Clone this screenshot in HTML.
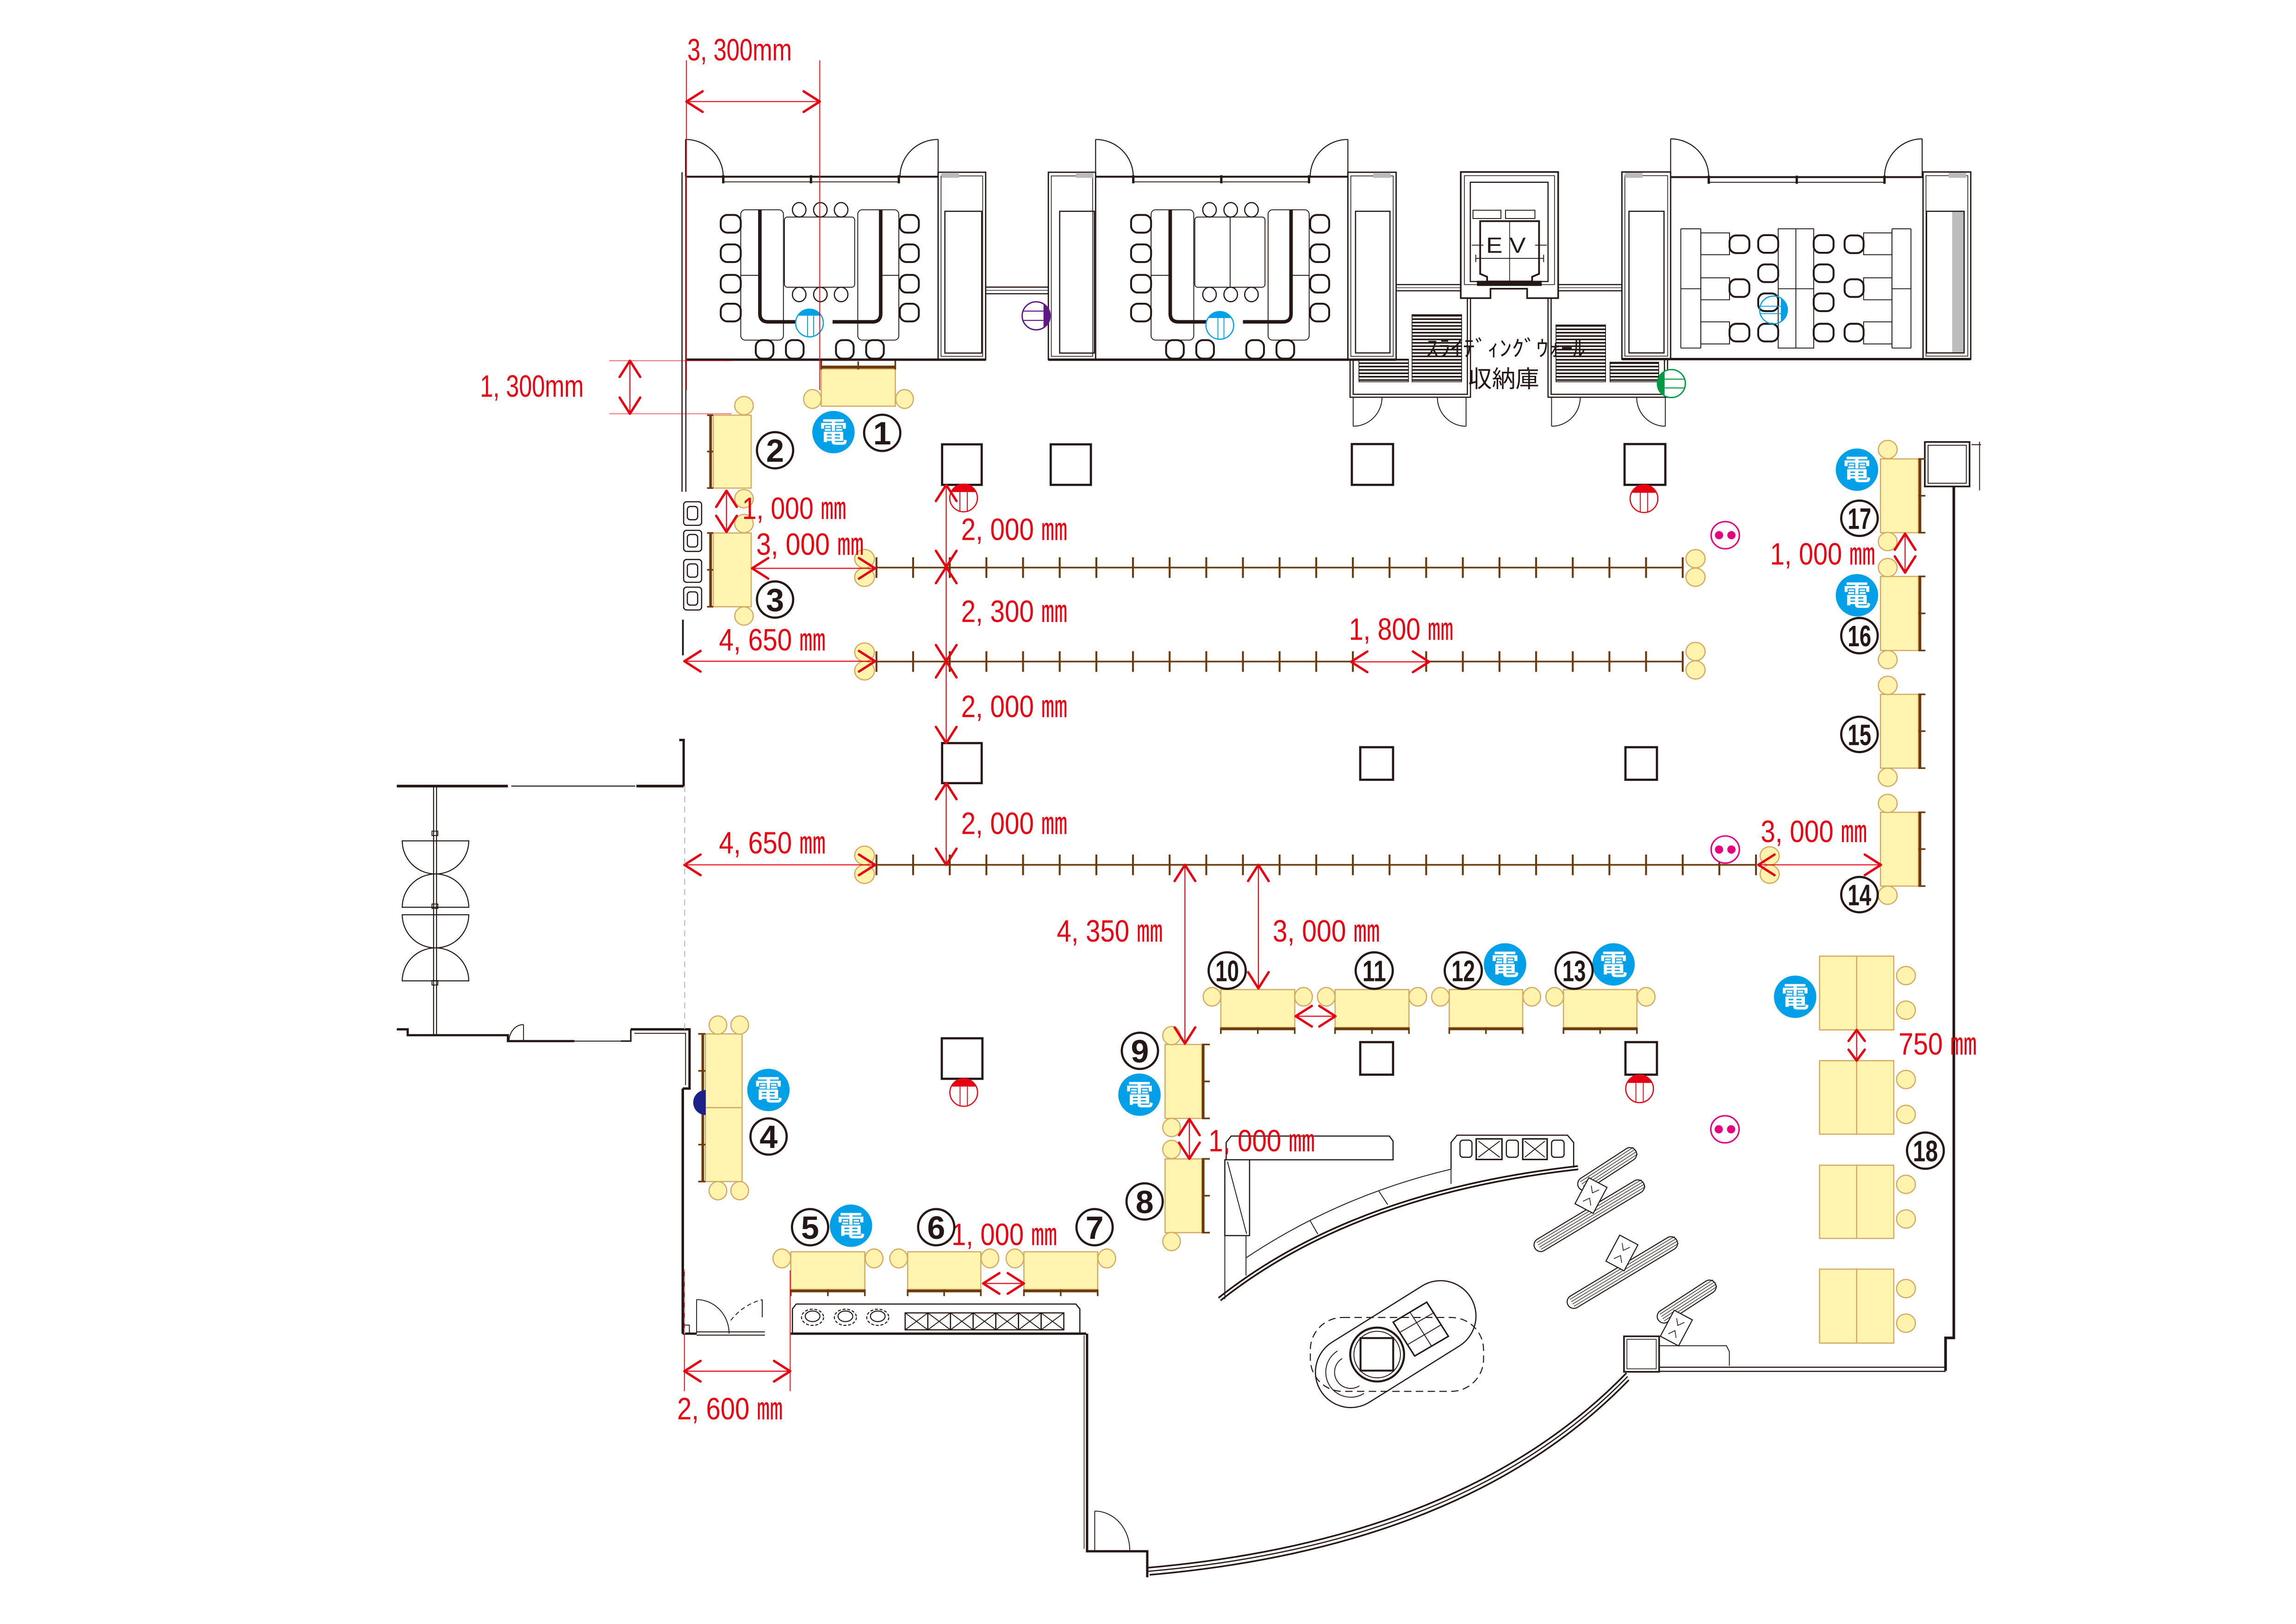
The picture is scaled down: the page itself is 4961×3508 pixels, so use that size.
<!DOCTYPE html>
<html><head><meta charset="utf-8"><style>
html,body{margin:0;padding:0;background:#fff}
svg{display:block}
.dim{fill:#e60012;font-family:"Liberation Sans","Noto Sans CJK JP",sans-serif;font-size:21px}
.num{fill:#231815;font-family:"Liberation Sans","Noto Sans CJK JP",sans-serif;font-size:22px;font-weight:bold;text-anchor:middle}
.num2{fill:#231815;font-family:"Liberation Sans","Noto Sans CJK JP",sans-serif;font-size:20px;font-weight:bold;text-anchor:middle}
.den{fill:#fff;font-family:"Liberation Sans","Noto Sans CJK JP",sans-serif;font-size:19px;font-weight:bold;text-anchor:middle}
.jp{fill:#231815;font-family:"Liberation Sans","Noto Sans CJK JP",sans-serif}
</style></head><body>
<svg xmlns="http://www.w3.org/2000/svg" width="4961" height="3508" viewBox="0 0 1560 1103" preserveAspectRatio="none">
<defs>
<pattern id="sl" width="10" height="2.3" patternUnits="userSpaceOnUse"><rect width="10" height="1.1" fill="#231815"/></pattern>
</defs>
<rect width="1560" height="1103" fill="#fff"/>

<!-- ========== TOP ROOMS ========== -->
<g stroke="#231815" fill="none">
 <path d="M463.4 117V334M466 120V334" stroke-width=".8"/>
 <path d="M466 120H637.4" stroke-width="1.3"/>
 <path d="M491.4 123.5H611.5" stroke-width=".6"/>
 <path d="M465.8 94.7V120M465.8 94.7A25.6 25.3 0 0 1 491.4 120M637.4 94.7V120M637.4 94.7A25.9 25.3 0 0 0 611.5 120" stroke-width=".7"/>
 <rect x="637.4" y="117" width="32.3" height="127.3" stroke-width=".9"/>
 <rect x="639.4" y="119.5" width="28.3" height="122.5" stroke-width=".5"/>
 <rect x="642" y="143.5" width="25" height="96.3" stroke-width=".8"/>
 <path d="M466 244.3H669.7" stroke-width="1.6"/>
 <path d="M669.7 195H712.3M669.7 199.5H712.3" stroke-width=".8"/>
 <path d="M669.7 197.2H712.3" stroke-width=".4"/>
 <rect x="712.3" y="117" width="32.1" height="127.3" stroke-width=".9"/>
 <rect x="714.3" y="119.5" width="28.1" height="122.5" stroke-width=".5"/>
 <rect x="720" y="143.5" width="23.5" height="96.3" stroke-width=".8"/>
 <path d="M744.4 120H915.8" stroke-width="1.3"/>
 <path d="M770 123.5H890.2" stroke-width=".6"/>
 <path d="M744.4 94.7V120M744.4 94.7A25.6 25.3 0 0 1 770 120M915.8 94.7V120M915.8 94.7A25.6 25.3 0 0 0 890.2 120" stroke-width=".7"/>
 <rect x="915.8" y="117" width="32.8" height="127.3" stroke-width=".9"/>
 <rect x="917.8" y="119.5" width="28.8" height="122.5" stroke-width=".5"/>
 <rect x="921" y="143.5" width="23.4" height="96.2" stroke-width=".8"/>
 <path d="M712.3 244.3H948.6" stroke-width="1.6"/>
 <path d="M948.6 193.3H992.5M948.6 197.5H992.5M1058.7 193.3H1102M1058.7 197.5H1102" stroke-width=".8"/>
 <path d="M948.6 195.4H992.5M1058.7 195.4H1102" stroke-width=".4"/>
 <path d="M992.5 116.8H1058.7V202.5H1037.6V196.1H1012.7V202.5H992.5Z" stroke-width="1.1"/>
 <rect x="995" y="119.3" width="61.2" height="74" stroke-width=".5"/>
 <rect x="999" y="123.8" width="52.8" height="67.4" stroke-width=".8"/>
 <path d="M1005.7 150.2H1045.7V186L1041 188V191.2H1010.4V188L1005.7 186Z" stroke-width="1.2"/>
 <path d="M1025.7 150.2V191.2" stroke-width=".5"/>
 <rect x="1000.8" y="142.8" width="19" height="5.6" stroke-width=".6"/>
 <rect x="1022.9" y="142.8" width="20" height="5.6" stroke-width=".6"/>
 <path d="M1002.7 175.5H1048.8M1002.7 173V178M1048.8 173V178M1000 166.5H1008M1043 166.5H1051" stroke-width=".6"/>
 <rect x="1004" y="191.2" width="43" height="2.5" fill="#231815"/>
 <rect x="1102" y="116.8" width="33.1" height="127.1" stroke-width=".9"/>
 <rect x="1104" y="119.3" width="29.1" height="122.6" stroke-width=".5"/>
 <rect x="1106.8" y="143.5" width="23.8" height="96.2" stroke-width=".8"/>
 <path d="M1135.1 120.3H1306.6" stroke-width="1.3"/>
 <path d="M1161 123.8H1280.4" stroke-width=".6"/>
 <path d="M1135.1 94.3V120.3M1135.1 94.3A25.9 26 0 0 1 1161 120.3M1306 94.3V120.3M1306 94.3A25.6 26 0 0 0 1280.4 120.3" stroke-width=".7"/>
 <rect x="1306.6" y="116.8" width="32.4" height="127.1" stroke-width=".9"/>
 <rect x="1308.6" y="119.3" width="28.4" height="122.6" stroke-width=".5"/>
 <rect x="1326.4" y="143.5" width="8.1" height="96.2" fill="#bdbdbd" stroke="none"/>
 <rect x="1309" y="143.5" width="25.5" height="96.2" stroke-width=".8"/>
 <path d="M1102 243.9H1339" stroke-width="1.6"/>
 <path d="M917.3 243.9V269.8H999.1V202.5M919.4 243.9V267.8H997V202.5" stroke-width=".8"/>
 <path d="M1051.8 202.5V269.8H1133V243.9M1053.9 202.5V267.8H1130.9V243.9" stroke-width=".8"/>
 <path d="M919.4 269.8V289.5M919.4 289.5A19.6 19.7 0 0 0 939 269.8M996.1 269.8V289.5M996.1 289.5A19.5 19.7 0 0 1 976.6 269.8M1054.2 269.8V289.5M1054.2 289.5A19.5 19.7 0 0 0 1073.7 269.8M1131.5 269.8V289.5M1131.5 289.5A19.5 19.7 0 0 1 1112 269.8" stroke-width=".6"/>
 <path d="M1345 300V333M1339.5 302H1346" stroke-width=".6"/>
</g>
<g fill="#bbb">
 <rect x="639.6" y="117.3" width="12" height="3.5"/>
 <rect x="731" y="117.3" width="12" height="3.5"/>
 <rect x="933" y="117.3" width="12" height="3.5"/>
 <rect x="1104" y="117.3" width="12" height="3.5"/>
 <rect x="1324" y="117.3" width="12" height="3.5"/>
</g>
<g fill="#231815">
 <rect x="490.6" y="119" width="1.6" height="5.5"/><rect x="550.2" y="119" width="1.6" height="5.5"/><rect x="609.9" y="119" width="1.6" height="5.5"/>
 <rect x="769.2" y="119" width="1.6" height="5.5"/><rect x="829" y="119" width="1.6" height="5.5"/><rect x="888.6" y="119" width="1.6" height="5.5"/>
 <rect x="1160.2" y="119.3" width="1.6" height="5.5"/><rect x="1220" y="119.3" width="1.6" height="5.5"/><rect x="1279.6" y="119.3" width="1.6" height="5.5"/>
</g>
<g stroke="#231815" stroke-width=".5">
 <rect x="923.3" y="243.9" width="33.7" height="15.4" fill="url(#sl)"/>
 <rect x="959.4" y="213.7" width="33.7" height="45.6" fill="url(#sl)"/>
 <rect x="1057.2" y="220.7" width="33.7" height="38.6" fill="url(#sl)"/>
 <rect x="1093.9" y="246" width="33.1" height="13.3" fill="url(#sl)"/>
</g>
<text class="jp" x="969" y="242" font-size="15" textLength="108" lengthAdjust="spacingAndGlyphs">ｽﾗｲﾃﾞｨﾝｸﾞｳｫｰﾙ</text>
<text class="jp" x="997.6" y="263" font-size="16" textLength="48.2" lengthAdjust="spacingAndGlyphs">収納庫</text>
<text class="jp" x="1009.7" y="171.6" font-size="15" textLength="27" lengthAdjust="spacingAndGlyphs">E V</text>

<!-- room A furniture -->
<g>
 <g stroke="#231815" fill="#fff" stroke-width="1.3">
  <rect x="489.7" y="146" width="13.6" height="12" rx="4.5"/><rect x="489.7" y="166" width="13.6" height="12" rx="4.5"/><rect x="489.7" y="186.7" width="13.6" height="12" rx="4.5"/><rect x="489.7" y="206.3" width="13.6" height="12" rx="4.5"/>
  <rect x="611.4" y="146" width="12.9" height="12" rx="4.5"/><rect x="611.4" y="166" width="12.9" height="12" rx="4.5"/><rect x="611.4" y="186.7" width="12.9" height="12" rx="4.5"/><rect x="611.4" y="206.3" width="12.9" height="12" rx="4.5"/>
  <rect x="513.5" y="231" width="12" height="12.6" rx="4.5"/><rect x="534" y="231" width="12" height="12.6" rx="4.5"/><rect x="568" y="231" width="12" height="12.6" rx="4.5"/><rect x="588.5" y="231" width="12" height="12.6" rx="4.5"/>
 </g>
 <g stroke="#231815" fill="none" stroke-width=".6">
  <rect x="503.3" y="142.5" width="29" height="88.5" rx="3"/>
  <rect x="582.8" y="142.5" width="27.9" height="88.5" rx="3"/>
  <rect x="533" y="147.4" width="47.7" height="47.7" rx="2"/>
  <path d="M503.3 187H516M598.8 187H610.7"/>
 </g>
 <g stroke="#231815" fill="#fff" stroke-width=".8">
  <ellipse cx="543" cy="142.5" rx="4.6" ry="4.9"/><ellipse cx="557.4" cy="142.5" rx="4.6" ry="4.9"/><ellipse cx="571.5" cy="142.5" rx="4.6" ry="4.9"/>
  <ellipse cx="543" cy="200" rx="4.6" ry="4.9"/><ellipse cx="557.4" cy="200" rx="4.6" ry="4.9"/><ellipse cx="571.5" cy="200" rx="4.6" ry="4.9"/>
 </g>
 <path d="M516.3 142.5V213Q516.3 218.6 522 218.6H548.7M598.4 142.5V213Q598.4 218.6 592.7 218.6H565.7" stroke="#231815" stroke-width="2.4" fill="none"/>
 <circle cx="550" cy="219.4" r="9.4" fill="#fff" stroke="#00a0e9" stroke-width=".8"/>
 <path d="M542 214.4A9.4 9.4 0 0 1 558 214.4Z" fill="#00a0e9"/>
 <path d="M548.7 214.4V228.4M552.8 214.4V228.4" stroke="#00a0e9" stroke-width=".6"/>
</g>
<!-- room B furniture -->
<g transform="translate(278.8,0)">
 <g stroke="#231815" fill="#fff" stroke-width="1.3">
  <rect x="489.7" y="146" width="13.6" height="12" rx="4.5"/><rect x="489.7" y="166" width="13.6" height="12" rx="4.5"/><rect x="489.7" y="186.7" width="13.6" height="12" rx="4.5"/><rect x="489.7" y="206.3" width="13.6" height="12" rx="4.5"/>
  <rect x="611.4" y="146" width="12.9" height="12" rx="4.5"/><rect x="611.4" y="166" width="12.9" height="12" rx="4.5"/><rect x="611.4" y="186.7" width="12.9" height="12" rx="4.5"/><rect x="611.4" y="206.3" width="12.9" height="12" rx="4.5"/>
  <rect x="513.5" y="231" width="12" height="12.6" rx="4.5"/><rect x="534" y="231" width="12" height="12.6" rx="4.5"/><rect x="568" y="231" width="12" height="12.6" rx="4.5"/><rect x="588.5" y="231" width="12" height="12.6" rx="4.5"/>
 </g>
 <g stroke="#231815" fill="none" stroke-width=".6">
  <rect x="503.3" y="142.5" width="29" height="88.5" rx="3"/>
  <rect x="582.8" y="142.5" width="27.9" height="88.5" rx="3"/>
  <rect x="533" y="147.4" width="47.7" height="47.7" rx="2"/>
  <path d="M503.3 187H516M598.8 187H610.7M557 147.4V195.1"/>
 </g>
 <g stroke="#231815" fill="#fff" stroke-width=".8">
  <ellipse cx="543" cy="142.5" rx="4.6" ry="4.9"/><ellipse cx="557.4" cy="142.5" rx="4.6" ry="4.9"/><ellipse cx="571.5" cy="142.5" rx="4.6" ry="4.9"/>
  <ellipse cx="543" cy="200" rx="4.6" ry="4.9"/><ellipse cx="557.4" cy="200" rx="4.6" ry="4.9"/><ellipse cx="571.5" cy="200" rx="4.6" ry="4.9"/>
 </g>
 <path d="M516.3 142.5V213Q516.3 218.6 522 218.6H548.7M598.4 142.5V213Q598.4 218.6 592.7 218.6H565.7" stroke="#231815" stroke-width="2.4" fill="none"/>
 <circle cx="550" cy="221" r="9.4" fill="#fff" stroke="#00a0e9" stroke-width=".8"/>
 <path d="M542 216A9.4 9.4 0 0 1 558 216Z" fill="#00a0e9"/>
 <path d="M548.7 216V230M552.8 216V230" stroke="#00a0e9" stroke-width=".6"/>
</g>
<!-- room C furniture -->
<g stroke="#231815" fill="none" stroke-width=".6">
 <path d="M1142 155.4V236.4M1155.6 155.4V236.4M1142 155.4H1155.6M1142 236.4H1155.6M1142 196.1H1155.6"/>
 <path d="M1285.5 155.4V236.4M1298.4 155.4V236.4M1285.5 155.4H1298.4M1285.5 236.4H1298.4M1285.5 196.1H1298.4"/>
 <rect x="1155.6" y="158.2" width="19.5" height="14.8"/><rect x="1155.6" y="188.7" width="19.5" height="14.9"/><rect x="1155.6" y="218.6" width="19.5" height="15"/>
 <rect x="1266.2" y="158.2" width="19.3" height="14.8"/><rect x="1266.2" y="188.7" width="19.3" height="14.9"/><rect x="1266.2" y="218.6" width="19.3" height="15"/>
 <rect x="1208.2" y="155.4" width="24.1" height="81"/>
 <path d="M1220.2 155.4V236.4M1208.2 196.1H1232.3"/>
</g>
<g stroke="#231815" fill="#fff" stroke-width="1.3">
 <rect x="1175.1" y="159.9" width="13.5" height="12" rx="4.5"/><rect x="1175.1" y="189.7" width="13.5" height="12" rx="4.5"/><rect x="1175.1" y="219.9" width="13.5" height="12" rx="4.5"/>
 <rect x="1194.6" y="159.7" width="13.6" height="12" rx="4.5"/><rect x="1194.6" y="179.6" width="13.6" height="12" rx="4.5"/><rect x="1194.6" y="199.3" width="13.6" height="12" rx="4.5"/><rect x="1194.6" y="219.9" width="13.6" height="12" rx="4.5"/>
 <rect x="1232.3" y="159.7" width="13.5" height="12" rx="4.5"/><rect x="1232.3" y="179.6" width="13.5" height="12" rx="4.5"/><rect x="1232.3" y="199.3" width="13.5" height="12" rx="4.5"/><rect x="1232.3" y="219.9" width="13.5" height="12" rx="4.5"/>
 <rect x="1253.3" y="159.9" width="12.9" height="12" rx="4.5"/><rect x="1253.3" y="189.7" width="12.9" height="12" rx="4.5"/><rect x="1253.3" y="219.9" width="12.9" height="12" rx="4.5"/>
</g>
<circle cx="1205" cy="210.5" r="9.4" fill="none" stroke="#00a0e9" stroke-width=".8"/>
<path d="M1210 202.5A9.4 9.4 0 0 1 1210 218.5Z" fill="#00a0e9"/>
<path d="M1196 208H1210M1196 213H1210" stroke="#00a0e9" stroke-width=".6"/>
<circle cx="704" cy="214.5" r="9.5" fill="#fff" stroke="#5f1985" stroke-width=".9"/>
<path d="M709 206.4A9.5 9.5 0 0 1 709 222.6Z" fill="#5f1985"/>
<path d="M695 211.3H709M695 217.6H709" stroke="#5f1985" stroke-width=".7"/>
<circle cx="1135.6" cy="260.5" r="9.5" fill="#fff" stroke="#009944" stroke-width=".9"/>
<path d="M1131 252.2A9.5 9.5 0 0 0 1131 268.8Z" fill="#009944"/>
<path d="M1131 257.5H1145M1131 263.5H1145" stroke="#009944" stroke-width=".7"/>

<!-- ========== HALL WALLS ========== -->
<g stroke="#231815" fill="none">
 <g stroke-width=".8">
  <rect x="464.5" y="340.8" width="12.2" height="16" rx="2"/><rect x="467" y="344" width="7" height="9" rx="2"/>
  <rect x="464.5" y="360.2" width="12.2" height="14.3" rx="2"/><rect x="467" y="363" width="7" height="8.5" rx="2"/>
  <rect x="464.5" y="380" width="12.2" height="15.5" rx="2"/><rect x="467" y="383" width="7" height="9" rx="2"/>
  <rect x="464.5" y="398.8" width="12.2" height="15.5" rx="2"/><rect x="467" y="402" width="7" height="9" rx="2"/>
 </g>
 <path d="M464 420.9V445.1" stroke-width="1.2"/>
 <path d="M461.5 502.6H464.5V533.9" stroke-width="1.6"/>
 <path d="M269.6 533.9H345.1M432.4 533.9H464.5" stroke-width="1.8"/>
 <path d="M347.4 533.9H431.6" stroke-width=".7"/>
 <path d="M294.6 533.9V703.1M296.6 533.9V703.1" stroke-width=".7"/>
 <rect x="293.5" y="564.5" width="4" height="3" stroke-width=".6"/>
 <rect x="293.5" y="614" width="4" height="3" stroke-width=".6"/>
 <rect x="293.5" y="666" width="4" height="3" stroke-width=".6"/>
 <path d="M273.3 571.1A22.6 22.5 0 0 0 318.5 571.1Z M273.3 616.2A22.6 22.6 0 0 1 318.5 616.2Z M273.3 621.3A22.6 22.5 0 0 0 318.5 621.3Z M273.3 666.2A22.6 22.4 0 0 1 318.5 666.2Z" stroke-width=".7"/>
 <path d="M269.6 699.1H277V703.1H345.1V707.1H390.3" stroke-width="1.5"/>
 <path d="M390.3 707.1H421.8" stroke-width=".6"/>
 <path d="M421.8 707.1H428.6V699.1" stroke-width="1"/>
 <path d="M355.7 707.1V695.9M355.7 695.9A9.8 11.2 0 0 0 345.9 707.1" stroke-width=".6"/>
 <path d="M428.6 699.1H468.5V739.3H463.9" stroke-width="1.6"/>
 <path d="M431 701.8H465.8V737" stroke-width=".6"/>
 <path d="M463.9 739.3V905.8" stroke-width="1.7"/>
 <path d="M463.9 905.8H473.3" stroke-width="1.5"/>
 <rect x="463.9" y="900" width="4.5" height="5.8" stroke-width=".6"/>
 <path d="M473.3 904.6H519.7M473.3 906.8H519.7" stroke-width=".6"/>
 <path d="M473.3 905.8V882.7M473.3 882.7A22 23.1 0 0 1 495.4 905.8" stroke-width=".6"/>
 <path d="M496.5 896.8Q505 886 517.9 882.7" stroke-width=".6" stroke-dasharray="3 2"/>
 <path d="M517.9 882.7V894.7" stroke-width=".6"/>
 <path d="M537.3 905.8H738" stroke-width="1.6"/>
 <path d="M538.4 905.8V889L541 885.7H731L733.7 889V905.8" stroke-width=".8"/>
 <path d="M738.6 905.8V1053.6H779.5V1071.3" stroke-width="1.6"/>
 <path d="M736.6 907V1052" stroke-width=".5"/>
 <path d="M743.8 1052.8V1026.3M743.8 1026.3A23.8 26.5 0 0 1 767.6 1052.8" stroke-width=".6"/>
 <rect x="1307.8" y="300.2" width="30.4" height="30.2" stroke-width="1.1"/>
 <rect x="1310" y="302.4" width="26" height="25.8" stroke-width=".6"/>
 <path d="M1327.5 330.4V908.7H1321.9V931" stroke-width="1.8"/>
 <path d="M1127.3 928.6H1321.9M1127.3 931.4H1321.9" stroke-width=".8"/>
 <rect x="1103.4" y="907.6" width="23.9" height="24.1" stroke-width="1.1"/>
 <rect x="1105.4" y="909.6" width="19.9" height="20.1" stroke-width=".5"/>
 <path d="M1127.3 914H1173L1175 918V927.7" stroke-width=".6"/>
 <path d="M779.5 1064.8Q995 1046 1105.1 932.5" stroke-width="1.1"/>
 <path d="M780.3 1067.2Q995.8 1048.4 1105.9 934.9" stroke-width=".8"/>
 <path d="M781.1 1069.6Q996.6 1050.8 1106.7 937.3" stroke-width="1.1"/>
 <path d="M828.6 882.4Q920 810 1072.2 793.1" stroke-width="3.4"/>
 <path d="M828.6 882.4Q920 810 1072.2 793.1" stroke="#fff" stroke-width="1.1"/>
 <path d="M846.6 854.3Q910 812 985.9 794.1" stroke-width=".6"/>
 <path d="M890.2 829.2L895.4 838.2M936.9 809.1L942.9 818.2M846.6 839.2V866.3M985.9 794.1V804.1" stroke-width=".6"/>
 <path d="M833.1 787.7V776L836.5 771.6H944L946.5 775V787.7H849" stroke-width=".8"/>
 <rect x="832.2" y="787.7" width="16.8" height="51.5" stroke-width=".8"/>
 <path d="M834 789L847 838M832.2 787.7V882.4" stroke-width=".6"/>
 <path d="M985.9 794V776L990 771H1065L1069.2 776V793" stroke-width=".8"/>
 <rect x="992" y="774.4" width="8.1" height="11.6" rx="2" stroke-width=".8"/>
 <rect x="1023.5" y="774.4" width="8.1" height="11.6" rx="2" stroke-width=".8"/>
 <rect x="1054.2" y="774.4" width="8.5" height="11.6" rx="2" stroke-width=".8"/>
 <rect x="1003" y="773.5" width="17.5" height="14" stroke-width="1"/>
 <rect x="1034.6" y="773.5" width="16.6" height="14" stroke-width="1"/>
 <path d="M1004.5 775L1019 786M1019 775L1004.5 786M1036 775L1049.7 786M1049.7 775L1036 786" stroke-width=".6"/>
 <g transform="translate(948.3,912.9) rotate(-32)">
  <rect x="-60" y="-24" width="120" height="48" rx="24" stroke-width=".8"/>
  <path d="M-36 -17A17 17 0 0 0 -36 17M-36 -11A11 11 0 0 0 -36 11" stroke-width=".6"/>
 </g>
 <rect x="890.3" y="894.8" width="117.7" height="50.2" rx="22" stroke-width=".7" stroke-dasharray="5 3"/>
 <circle cx="935.7" cy="920" r="18.3" stroke-width="1.4"/>
 <circle cx="935.7" cy="920" r="15.8" stroke-width=".6"/>
 <rect x="924.4" y="908.8" width="22.2" height="22.1" stroke-width="1.3" fill="#fff"/>
 <path d="M969.4 884.4L984.1 907.6L961.2 921L946.6 898Z" stroke-width="1"/>
 <path d="M958 891.2L972.7 914.3M974.5 891.4L951.5 904.7M979.2 899.8L956.3 913.3" stroke-width=".6"/>
 <g stroke-width=".7">
  <ellipse cx="552.1" cy="894.7" rx="7.5" ry="5.5" stroke-dasharray="2 1.2"/><ellipse cx="552.1" cy="894" rx="5" ry="3.6"/>
  <ellipse cx="574.4" cy="894.7" rx="7.5" ry="5.5" stroke-dasharray="2 1.2"/><ellipse cx="574.4" cy="894" rx="5" ry="3.6"/>
  <ellipse cx="596.4" cy="894.7" rx="7.5" ry="5.5" stroke-dasharray="2 1.2"/><ellipse cx="596.4" cy="894" rx="5" ry="3.6"/>
 </g>
 <g stroke-width=".8">
  <rect x="615" y="891.7" width="15.4" height="11.5"/><rect x="630.4" y="891.7" width="15.4" height="11.5"/><rect x="645.8" y="891.7" width="15.4" height="11.5"/><rect x="661.2" y="891.7" width="15.4" height="11.5"/><rect x="676.6" y="891.7" width="15.4" height="11.5"/><rect x="692" y="891.7" width="15.4" height="11.5"/><rect x="707.4" y="891.7" width="15.4" height="11.5"/>
  <path d="M615 891.7l15.4 11.5m0-11.5l-15.4 11.5M630.4 891.7l15.4 11.5m0-11.5l-15.4 11.5M645.8 891.7l15.4 11.5m0-11.5l-15.4 11.5M661.2 891.7l15.4 11.5m0-11.5l-15.4 11.5M676.6 891.7l15.4 11.5m0-11.5l-15.4 11.5M692 891.7l15.4 11.5m0-11.5l-15.4 11.5M707.4 891.7l15.4 11.5m0-11.5l-15.4 11.5" stroke-width=".6"/>
 </g>
</g>
<g stroke="#231815" fill="#fff" stroke-width=".7">
 <g transform="translate(1079.8,825.7) rotate(-31)"><rect x="-43" y="-4.5" width="86" height="9" rx="4.5"/><path d="M-40 -2.7H43M-40 -0.9H43M-40 0.9H43M-40 2.7H43" stroke-width=".4"/></g>
 <g transform="translate(1102.3,864.3) rotate(-31)"><rect x="-43" y="-4.5" width="86" height="9" rx="4.5"/><path d="M-40 -2.7H43M-40 -0.9H43M-40 0.9H43M-40 2.7H43" stroke-width=".4"/></g>
 <g transform="translate(1092,794) rotate(-33)"><rect x="-23" y="-4.5" width="46" height="9" rx="4.5"/><path d="M-20 -2.7H23M-20 -0.9H23M-20 0.9H23M-20 2.7H23" stroke-width=".4"/></g>
 <g transform="translate(1146,884) rotate(-33)"><rect x="-23" y="-4.5" width="46" height="9" rx="4.5"/><path d="M-20 -2.7H23M-20 -0.9H23M-20 0.9H23M-20 2.7H23" stroke-width=".4"/></g>
 <g transform="translate(1081,812) rotate(-62)"><rect x="-10" y="-7" width="20" height="14"/><path d="M-6 -3L-2 0L-6 3M6 -3L2 0L6 3" fill="none" stroke-width=".5"/></g>
 <g transform="translate(1102,851) rotate(-62)"><rect x="-10" y="-7" width="20" height="14"/><path d="M-6 -3L-2 0L-6 3M6 -3L2 0L6 3" fill="none" stroke-width=".5"/></g>
 <g transform="translate(1139,902) rotate(-62)"><rect x="-10" y="-7" width="20" height="14"/><path d="M-6 -3L-2 0L-6 3M6 -3L2 0L6 3" fill="none" stroke-width=".5"/></g>
</g>

<g fill="#fff" stroke="#231815" stroke-width="1.5">
 <rect x="640.1" y="301.8" width="26.9" height="27.5"/>
 <rect x="713.9" y="301.8" width="27.3" height="27.5"/>
 <rect x="918.5" y="301.6" width="28" height="27.7"/>
 <rect x="1103.8" y="301.6" width="27.7" height="27.7"/>
 <rect x="640.1" y="504.7" width="26.9" height="27.2"/>
 <rect x="924.2" y="507.5" width="22.3" height="22.1"/>
 <rect x="1104.4" y="507.5" width="21.4" height="22.1"/>
 <rect x="639.9" y="705.2" width="27.6" height="27.5"/>
 <rect x="924.2" y="707.8" width="22.3" height="22.1"/>
 <rect x="1104.4" y="707.8" width="21.4" height="22.1"/>
</g>
<g stroke="#e60012">
 <circle cx="654.7" cy="338.2" r="9.4" fill="#fff" stroke-width=".8"/>
 <path d="M646.2 334.2A9.4 9.4 0 0 1 663.2 334.2Z" fill="#e60012" stroke="none"/>
 <path d="M652.2 334.2V347.2M657.2 334.2V347.2" stroke-width=".6"/>
 <circle cx="1117" cy="338.7" r="9.4" fill="#fff" stroke-width=".8"/>
 <path d="M1108.5 334.7A9.4 9.4 0 0 1 1125.5 334.7Z" fill="#e60012" stroke="none"/>
 <path d="M1114.5 334.7V347.7M1119.5 334.7V347.7" stroke-width=".6"/>
 <circle cx="654.8" cy="742" r="9.4" fill="#fff" stroke-width=".8"/>
 <path d="M646.3 738A9.4 9.4 0 0 1 663.3 738Z" fill="#e60012" stroke="none"/>
 <path d="M652.3 738V751M657.3 738V751" stroke-width=".6"/>
 <circle cx="1114" cy="739.5" r="9.4" fill="#fff" stroke-width=".8"/>
 <path d="M1105.5 735.5A9.4 9.4 0 0 1 1122.5 735.5Z" fill="#e60012" stroke="none"/>
 <path d="M1111.5 735.5V748.5M1116.5 735.5V748.5" stroke-width=".6"/>
</g>

<g stroke="#6b3a0c" fill="none">
 <g transform="translate(0,385.5)">
  <path d="M595.5 0H1143.3" stroke-width="1.1"/>
  <path d="M595.5 -7v14M620.4 -7v14M645.3 -7v14M670.2 -7v14M695.1 -7v14M720 -7v14M744.9 -7v14M769.8 -7v14M794.7 -7v14M819.6 -7v14M844.5 -7v14M869.4 -7v14M894.3 -7v14M919.2 -7v14M944.1 -7v14M969 -7v14M993.9 -7v14M1018.8 -7v14M1043.7 -7v14M1068.6 -7v14M1093.5 -7v14M1118.4 -7v14M1143.3 -7v14" stroke-width="1.3"/>
 </g>
 <g transform="translate(0,449.3)">
  <path d="M595.5 0H919.2M969 0H1143.3" stroke-width="1.1"/>
  <path d="M595.5 -7v14M620.4 -7v14M645.3 -7v14M670.2 -7v14M695.1 -7v14M720 -7v14M744.9 -7v14M769.8 -7v14M794.7 -7v14M819.6 -7v14M844.5 -7v14M869.4 -7v14M894.3 -7v14M919.2 -7v14M969 -7v14M993.9 -7v14M1018.8 -7v14M1043.7 -7v14M1068.6 -7v14M1093.5 -7v14M1118.4 -7v14M1143.3 -7v14" stroke-width="1.3"/>
 </g>
 <g transform="translate(0,587.4)">
  <path d="M595.5 0H1193.1" stroke-width="1.1"/>
  <path d="M595.5 -7v14M620.4 -7v14M645.3 -7v14M670.2 -7v14M695.1 -7v14M720 -7v14M744.9 -7v14M769.8 -7v14M794.7 -7v14M819.6 -7v14M844.5 -7v14M869.4 -7v14M894.3 -7v14M919.2 -7v14M944.1 -7v14M969 -7v14M993.9 -7v14M1018.8 -7v14M1043.7 -7v14M1068.6 -7v14M1093.5 -7v14M1118.4 -7v14M1143.3 -7v14M1168.2 -7v14M1193.1 -7v14" stroke-width="1.3"/>
 </g>
</g>
<g fill="#fff3ad" stroke="#d4aa62" stroke-width=".8">
 <ellipse cx="587.4" cy="379.5" rx="6.7" ry="6.3"/><ellipse cx="587.4" cy="392" rx="6.7" ry="6.3"/>
 <ellipse cx="1152" cy="379.5" rx="6.5" ry="6.2"/><ellipse cx="1152" cy="392" rx="6.5" ry="6.2"/>
 <ellipse cx="587.4" cy="443" rx="6.7" ry="6.3"/><ellipse cx="587.4" cy="455.5" rx="6.7" ry="6.3"/>
 <ellipse cx="1152" cy="442.5" rx="6.5" ry="6.2"/><ellipse cx="1152" cy="455" rx="6.5" ry="6.2"/>
 <ellipse cx="587.4" cy="581" rx="6.7" ry="6.3"/><ellipse cx="587.4" cy="593.7" rx="6.7" ry="6.3"/>
 <ellipse cx="1202.4" cy="581.3" rx="6.5" ry="6.2"/><ellipse cx="1202.4" cy="593.7" rx="6.5" ry="6.2"/>
</g>

<g stroke="#e4007f" stroke-width="1">
 <ellipse cx="1172.2" cy="363.5" rx="9.6" ry="9.2" fill="#fff"/>
 <ellipse cx="1172.2" cy="577" rx="9.6" ry="9.2" fill="#fff"/>
 <ellipse cx="1172" cy="767" rx="9.6" ry="9.2" fill="#fff"/>
</g>
<g fill="#e4007f">
 <circle cx="1168" cy="363.5" r="2.8"/><circle cx="1176.4" cy="363.5" r="2.8"/>
 <circle cx="1168" cy="577" r="2.8"/><circle cx="1176.4" cy="577" r="2.8"/>
 <circle cx="1167.8" cy="767" r="2.8"/><circle cx="1176.2" cy="767" r="2.8"/>
</g>

<g fill="#fff5b1" stroke="#d4aa62" stroke-width=".8">
 <rect x="558" y="250.6" width="50.3" height="25.3"/>
 <rect x="484.6" y="282" width="25.8" height="49.5"/>
 <rect x="484.6" y="362" width="25.8" height="50.1"/>
 <rect x="479.3" y="702.2" width="24.9" height="50.1"/>
 <rect x="479.3" y="752.3" width="24.9" height="50.2"/>
 <rect x="537.3" y="850.2" width="50.3" height="25.5"/>
 <rect x="616.7" y="850.2" width="49.7" height="25.5"/>
 <rect x="695.7" y="850.2" width="50.1" height="25.5"/>
 <rect x="791.6" y="787.1" width="25" height="50.1"/>
 <rect x="791.6" y="709.4" width="25" height="50.2"/>
 <rect x="829.5" y="672.1" width="50.2" height="25.7"/>
 <rect x="907.1" y="672.1" width="50.2" height="25.7"/>
 <rect x="984.7" y="672.1" width="49.9" height="25.7"/>
 <rect x="1062.3" y="672.1" width="49.9" height="25.7"/>
 <rect x="1277.7" y="311.7" width="25.7" height="50.1"/>
 <rect x="1277.7" y="391.5" width="25.7" height="50.3"/>
 <rect x="1277.7" y="471.6" width="25.7" height="50.1"/>
 <rect x="1277.7" y="551.7" width="25.7" height="50.1"/>
 <rect x="1236.3" y="649.4" width="25.2" height="50.1"/><rect x="1261.5" y="649.4" width="25.2" height="50.1"/>
 <rect x="1236.3" y="720.4" width="25.2" height="49.9"/><rect x="1261.5" y="720.4" width="25.2" height="49.9"/>
 <rect x="1236.3" y="791.4" width="25.2" height="49.7"/><rect x="1261.5" y="791.4" width="25.2" height="49.7"/>
 <rect x="1236.3" y="862" width="25.2" height="50.2"/><rect x="1261.5" y="862" width="25.2" height="50.2"/>
</g>
<g stroke="#6b3a0c" fill="none">
 <path d="M558 249.3H608.3" stroke-width="2"/>
 <path d="M558 245V251M583.1 245.5V251M608.3 245V251" stroke-width="1.1"/>
 <path d="M482.8 282V331.5M482.8 362V412.1M477.5 702.2V802.5" stroke-width="1.8"/>
 <path d="M480.4 282H484.6M480.4 306.7H484.6M480.4 331.5H484.6M480.4 362H484.6M480.4 387H484.6M480.4 412.1H484.6M474.4 702.2H479.3M474.4 727.3H479.3M474.4 777.4H479.3M474.4 802.5H479.3" stroke-width="1.1"/>
 <path d="M537.3 876.8H587.6M616.7 876.8H666.4M695.7 876.8H745.8" stroke-width="1.8"/>
 <path d="M537.3 875.7V880.3M562.5 875.7V880.3M587.6 875.7V880.3M616.7 875.7V880.3M641.5 875.7V880.3M666.4 875.7V880.3M695.7 875.7V880.3M720.7 875.7V880.3M745.8 875.7V880.3" stroke-width="1.1"/>
 <path d="M817.5 709.4V759.6M817.5 787.1V837.2" stroke-width="1.8"/>
 <path d="M816.6 709.4H822M816.6 734.5H822M816.6 759.6H822M816.6 787.1H822M816.6 812.1H822M816.6 837.2H822" stroke-width="1.1"/>
 <path d="M829.5 698.8H879.7M907.1 698.8H957.3M984.7 698.8H1034.6M1062.3 698.8H1112.2" stroke-width="1.8"/>
 <path d="M829.5 697.8V702.2M854.6 697.8V702.2M879.7 697.8V702.2M907.1 697.8V702.2M932.2 697.8V702.2M957.3 697.8V702.2M984.7 697.8V702.2M1009.6 697.8V702.2M1034.6 697.8V702.2M1062.3 697.8V702.2M1087.2 697.8V702.2M1112.2 697.8V702.2" stroke-width="1.1"/>
 <path d="M1304.5 311.7V361.8M1304.5 391.5V441.8M1304.5 471.6V521.7M1304.5 551.7V601.8" stroke-width="1.8"/>
 <path d="M1303.4 311.7H1308.2M1303.4 336.7H1308.2M1303.4 361.8H1308.2M1303.4 391.5H1308.2M1303.4 416.6H1308.2M1303.4 441.8H1308.2M1303.4 471.6H1308.2M1303.4 496.6H1308.2M1303.4 521.7H1308.2M1303.4 551.7H1308.2M1303.4 576.7H1308.2M1303.4 601.8H1308.2" stroke-width="1.1"/>
</g>
<g fill="#fff3ad" stroke="#d4aa62" stroke-width=".8">
 <ellipse cx="552" cy="271" rx="6" ry="6.4"/><ellipse cx="614.6" cy="271" rx="6" ry="6.4"/>
 <ellipse cx="505.5" cy="275.5" rx="6.3" ry="6.2"/><ellipse cx="505.5" cy="338.7" rx="6.3" ry="6.2"/>
 <ellipse cx="505.5" cy="355.6" rx="6.3" ry="6.2"/><ellipse cx="505.5" cy="418.4" rx="6.3" ry="6.2"/>
 <ellipse cx="487.8" cy="696.2" rx="6" ry="6.2"/><ellipse cx="502.6" cy="696.2" rx="6" ry="6.2"/>
 <ellipse cx="487.8" cy="808.7" rx="6" ry="6.2"/><ellipse cx="502.6" cy="808.7" rx="6" ry="6.2"/>
 <ellipse cx="531.2" cy="854.7" rx="6" ry="6.4"/><ellipse cx="593.9" cy="854.7" rx="6" ry="6.4"/>
 <ellipse cx="610.6" cy="854.7" rx="6" ry="6.4"/><ellipse cx="672.6" cy="854.7" rx="6" ry="6.4"/>
 <ellipse cx="689.6" cy="854.7" rx="6" ry="6.4"/><ellipse cx="752" cy="854.7" rx="6" ry="6.4"/>
 <ellipse cx="796" cy="703.4" rx="6" ry="6.2"/><ellipse cx="796" cy="765.8" rx="6" ry="6.2"/>
 <ellipse cx="796" cy="780.7" rx="6" ry="6.2"/><ellipse cx="796" cy="843.2" rx="6" ry="6.2"/>
 <ellipse cx="823.5" cy="677" rx="6" ry="6.3"/><ellipse cx="885.7" cy="677" rx="6" ry="6.3"/>
 <ellipse cx="901.1" cy="677" rx="6" ry="6.3"/><ellipse cx="963.3" cy="677" rx="6" ry="6.3"/>
 <ellipse cx="978.7" cy="677" rx="6" ry="6.3"/><ellipse cx="1040.8" cy="677" rx="6" ry="6.3"/>
 <ellipse cx="1056.3" cy="677" rx="6" ry="6.3"/><ellipse cx="1118.5" cy="677" rx="6" ry="6.3"/>
 <ellipse cx="1282.6" cy="305.3" rx="6.4" ry="6.2"/><ellipse cx="1282.6" cy="367.8" rx="6.4" ry="6.2"/>
 <ellipse cx="1282.6" cy="385.5" rx="6.4" ry="6.2"/><ellipse cx="1282.6" cy="448" rx="6.4" ry="6.2"/>
 <ellipse cx="1282.6" cy="465.5" rx="6.4" ry="6.2"/><ellipse cx="1282.6" cy="527.9" rx="6.4" ry="6.2"/>
 <ellipse cx="1282.6" cy="545.7" rx="6.4" ry="6.2"/><ellipse cx="1282.6" cy="608" rx="6.4" ry="6.2"/>
 <ellipse cx="1295" cy="662.6" rx="6.4" ry="6.2"/><ellipse cx="1295" cy="686.1" rx="6.4" ry="6.2"/>
 <ellipse cx="1295" cy="733.2" rx="6.4" ry="6.2"/><ellipse cx="1295" cy="756.9" rx="6.4" ry="6.2"/>
 <ellipse cx="1295" cy="804.4" rx="6.4" ry="6.2"/><ellipse cx="1295" cy="827.9" rx="6.4" ry="6.2"/>
 <ellipse cx="1295" cy="875.2" rx="6.4" ry="6.2"/><ellipse cx="1295" cy="898.7" rx="6.4" ry="6.2"/>
</g>
<path d="M479.5 740.3A8.5 8.5 0 0 0 479.5 757.3Z" fill="#1d2088"/>

<g stroke="#e60012" fill="none">
 <path d="M466.4 41V265M557 41V265M465 862.7V944.9M536.9 862.7V944.9" stroke-width=".6"/>
 <path d="M414 245H497M414 281H497" stroke-width=".6" stroke-opacity=".6"/>
 <path d="M466.4 69H557M428 245V281M493.6 333.3V361.3M511 386H594.6M642.9 329.3V504.7M642.9 531.8V587.4M465 449.1H594.6M465 587.4H594.6M918 449.5H971M1294.4 362.4V388.9M1194.7 587.4H1278M805.1 587.4V708.8M855 587.4V671.3M880.3 690.2H907.4M808.1 760V787.1M1261.5 699.5V720.4M668 871.7H695.7M465 931.3H536.9" stroke-width=".7"/>
 <path stroke-width="1.6" stroke-linecap="round" stroke-linejoin="round" d="
 M477.4 62L466.4 69L477.4 76M546 62L557 69L546 76
 M421 256L428 245L435 256M421 270L428 281L435 270
 M486.6 344.3L493.6 333.3L500.6 344.3M486.6 350.3L493.6 361.3L500.6 350.3
 M522 379L511 386L522 393M583.6 379L594.6 386L583.6 393
 M635.9 340.3L642.9 329.3L649.9 340.3M635.9 374.1L642.9 385.1L649.9 374.1
 M635.9 396.1L642.9 385.1L649.9 396.1M635.9 438.1L642.9 449.1L649.9 438.1
 M635.9 460.1L642.9 449.1L649.9 460.1M635.9 493.7L642.9 504.7L649.9 493.7
 M635.9 542.8L642.9 531.8L649.9 542.8M635.9 576.4L642.9 587.4L649.9 576.4
 M476 442.1L465 449.1L476 456.1M583.6 442.1L594.6 449.1L583.6 456.1
 M476 580.4L465 587.4L476 594.4M583.6 580.4L594.6 587.4L583.6 594.4
 M929 442.5L918 449.5L929 456.5M960 442.5L971 449.5L960 456.5
 M1287.4 373.4L1294.4 362.4L1301.4 373.4M1287.4 377.9L1294.4 388.9L1301.4 377.9
 M1205.7 580.4L1194.7 587.4L1205.7 594.4M1267 580.4L1278 587.4L1267 594.4
 M798.1 598.4L805.1 587.4L812.1 598.4M798.1 697.8L805.1 708.8L812.1 697.8
 M848 598.4L855 587.4L862 598.4M848 660.3L855 671.3L862 660.3
 M891.3 683.2L880.3 690.2L891.3 697.2M896.4 683.2L907.4 690.2L896.4 697.2
 M801.1 771L808.1 760L815.1 771M801.1 776.1L808.1 787.1L815.1 776.1
 M1256 707L1261.5 699.5L1267 707M1256 712.9L1261.5 720.4L1267 712.9
 M679 864.7L668 871.7L679 878.7M684.7 864.7L695.7 871.7L684.7 878.7
 M476 924.3L465 931.3L476 938.3M525.9 924.3L536.9 931.3L525.9 938.3"/>
</g>
<path d="M465.2 533.9V699M465.2 905.8V862" stroke="#bbb" stroke-width=".7" stroke-dasharray="4 3" fill="none"/>

<g class="dim">
 <text x="467" y="41" textLength="71" lengthAdjust="spacingAndGlyphs">3, 300mm</text>
 <text x="326.2" y="269.4" textLength="70.4" lengthAdjust="spacingAndGlyphs">1, 300mm</text>
 <text x="504.3" y="352.5" textLength="70.7" lengthAdjust="spacingAndGlyphs">1, 000 ㎜</text>
 <text x="513.8" y="376.8" textLength="73" lengthAdjust="spacingAndGlyphs">3, 000 ㎜</text>
 <text x="653" y="366.8" textLength="72.2" lengthAdjust="spacingAndGlyphs">2, 000 ㎜</text>
 <text x="653" y="422.4" textLength="72.2" lengthAdjust="spacingAndGlyphs">2, 300 ㎜</text>
 <text x="488.5" y="441.8" textLength="72.4" lengthAdjust="spacingAndGlyphs">4, 650 ㎜</text>
 <text x="916.6" y="434.5" textLength="70.8" lengthAdjust="spacingAndGlyphs">1, 800 ㎜</text>
 <text x="653" y="487" textLength="72.2" lengthAdjust="spacingAndGlyphs">2, 000 ㎜</text>
 <text x="653" y="566.5" textLength="72.2" lengthAdjust="spacingAndGlyphs">2, 000 ㎜</text>
 <text x="488.5" y="579.7" textLength="72.4" lengthAdjust="spacingAndGlyphs">4, 650 ㎜</text>
 <text x="1202.7" y="383.4" textLength="71.3" lengthAdjust="spacingAndGlyphs">1, 000 ㎜</text>
 <text x="1196.3" y="572" textLength="72.2" lengthAdjust="spacingAndGlyphs">3, 000 ㎜</text>
 <text x="718" y="639.6" textLength="72" lengthAdjust="spacingAndGlyphs">4, 350 ㎜</text>
 <text x="864.7" y="639.6" textLength="72.8" lengthAdjust="spacingAndGlyphs">3, 000 ㎜</text>
 <text x="821.1" y="782" textLength="72.2" lengthAdjust="spacingAndGlyphs">1, 000 ㎜</text>
 <text x="1290" y="716.2" textLength="53" lengthAdjust="spacingAndGlyphs">750 ㎜</text>
 <text x="646.5" y="845.6" textLength="71.7" lengthAdjust="spacingAndGlyphs">1, 000 ㎜</text>
 <text x="460.1" y="964" textLength="71.7" lengthAdjust="spacingAndGlyphs">2, 600 ㎜</text>
</g>

<g fill="#00a0e9">
 <circle cx="566.3" cy="293.5" r="14.4"/>
 <circle cx="522.1" cy="740.3" r="14.4"/>
 <circle cx="578.2" cy="832.5" r="14.4"/>
 <circle cx="774.2" cy="743.5" r="14.4"/>
 <circle cx="1022.6" cy="655" r="14.4"/>
 <circle cx="1096.3" cy="655" r="14.4"/>
 <circle cx="1261.7" cy="319" r="14.4"/>
 <circle cx="1261.7" cy="404.3" r="14.4"/>
 <circle cx="1219.7" cy="677" r="14.4"/>
</g>
<g class="den">
 <text x="566.3" y="300.3">電</text>
 <text x="522.1" y="747.1">電</text>
 <text x="578.2" y="839.3">電</text>
 <text x="774.2" y="750.3">電</text>
 <text x="1022.6" y="661.8">電</text>
 <text x="1096.3" y="661.8">電</text>
 <text x="1261.7" y="325.8">電</text>
 <text x="1261.7" y="411.1">電</text>
 <text x="1219.7" y="683.8">電</text>
</g>
<g fill="#fff" stroke="#231815" stroke-width="1.5">
 <circle cx="599.4" cy="294" r="12.3"/>
 <circle cx="526.6" cy="305.8" r="12.3"/>
 <circle cx="526.6" cy="407.2" r="12.3"/>
 <circle cx="522.2" cy="771.9" r="12.3"/>
 <circle cx="550.4" cy="833.5" r="12.3"/>
 <circle cx="636.1" cy="833.5" r="12.3"/>
 <circle cx="743.7" cy="833.5" r="12.3"/>
 <circle cx="777.7" cy="816" r="12.3"/>
 <circle cx="774.5" cy="713.7" r="12.3"/>
 <ellipse cx="833.8" cy="659.2" rx="12.6" ry="12.4"/>
 <ellipse cx="933.7" cy="659.2" rx="12.6" ry="12.4"/>
 <ellipse cx="994.2" cy="659.2" rx="12.6" ry="12.4"/>
 <ellipse cx="1069.5" cy="659.2" rx="12.6" ry="12.4"/>
 <ellipse cx="1263.4" cy="352" rx="12.4" ry="12"/>
 <ellipse cx="1263.4" cy="431.7" rx="12.4" ry="12"/>
 <ellipse cx="1263.4" cy="498.8" rx="12.4" ry="12"/>
 <ellipse cx="1263.4" cy="607.6" rx="12.4" ry="12"/>
 <ellipse cx="1308.2" cy="781.5" rx="12.5" ry="12.3"/>
</g>
<g class="num">
 <text x="599.4" y="301.9">1</text>
 <text x="526.6" y="313.7">2</text>
 <text x="526.6" y="415.1">3</text>
 <text x="522.2" y="779.8">4</text>
 <text x="550.4" y="841.4">5</text>
 <text x="636.1" y="841.4">6</text>
 <text x="743.7" y="841.4">7</text>
 <text x="777.7" y="823.9">8</text>
 <text x="774.5" y="721.6">9</text>
</g>
<g class="num2">
 <text x="833.8" y="666.5" textLength="16" lengthAdjust="spacingAndGlyphs">10</text>
 <text x="933.7" y="666.5" textLength="16" lengthAdjust="spacingAndGlyphs">11</text>
 <text x="994.2" y="666.5" textLength="16" lengthAdjust="spacingAndGlyphs">12</text>
 <text x="1069.5" y="666.5" textLength="16" lengthAdjust="spacingAndGlyphs">13</text>
 <text x="1263.4" y="359.3" textLength="16" lengthAdjust="spacingAndGlyphs">17</text>
 <text x="1263.4" y="439" textLength="16" lengthAdjust="spacingAndGlyphs">16</text>
 <text x="1263.4" y="506.1" textLength="16" lengthAdjust="spacingAndGlyphs">15</text>
 <text x="1263.4" y="614.9" textLength="16" lengthAdjust="spacingAndGlyphs">14</text>
 <text x="1308.2" y="788.8" textLength="17" lengthAdjust="spacingAndGlyphs">18</text>
</g>
</svg>
</body></html>
